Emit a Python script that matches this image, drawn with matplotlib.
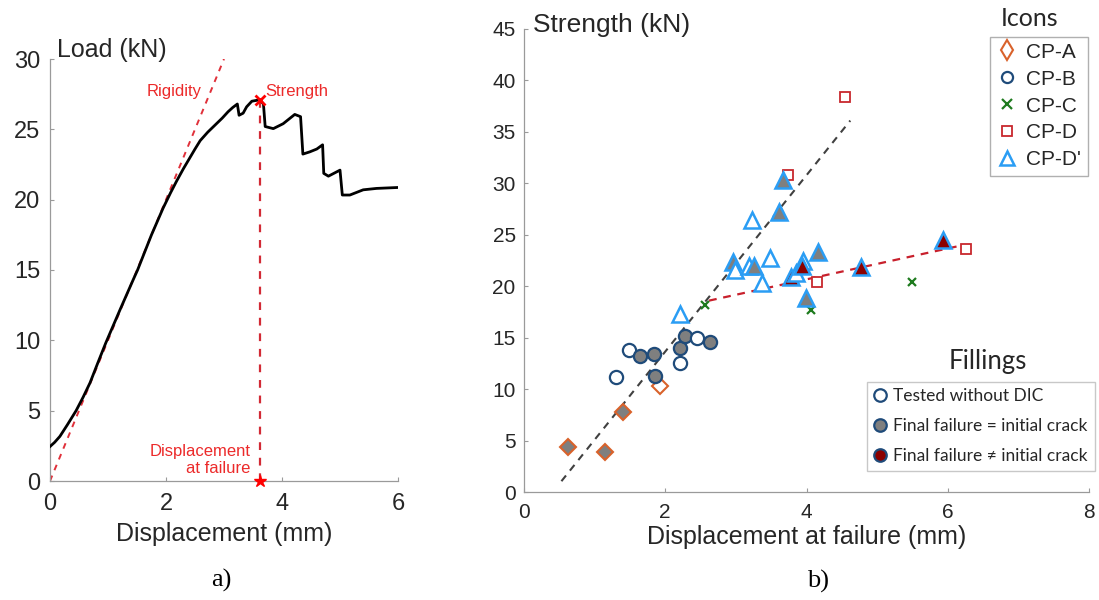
import matplotlib
matplotlib.use("Agg")
import matplotlib.pyplot as plt
from matplotlib.lines import Line2D

# ---------------- data: panel a) load-displacement curve ----------------
curve_x = [0.00, 0.08, 0.17, 0.30, 0.45, 0.57, 0.69, 0.82, 0.96, 1.21, 1.44, 1.51,
           1.75, 1.95, 2.08, 2.18, 2.30, 2.40, 2.50, 2.59, 2.72, 2.87, 2.97, 3.07,
           3.15, 3.23, 3.26, 3.33, 3.39, 3.48, 3.55, 3.62, 3.68, 3.71, 3.85, 4.02,
           4.22, 4.32, 4.36, 4.48, 4.60, 4.70, 4.72, 4.80, 5.00, 5.04, 5.17, 5.40,
           5.63, 6.02]
curve_y = [2.45, 2.75, 3.17, 4.00, 5.00, 5.95, 6.98, 8.35, 9.80, 12.2, 14.36, 15.0,
           17.5, 19.4, 20.5, 21.3, 22.2, 22.9, 23.6, 24.2, 24.8, 25.4, 25.8, 26.25,
           26.55, 26.8, 26.0, 26.15, 26.6, 27.0, 27.05, 27.1, 26.8, 25.2, 25.05, 25.4,
           26.06, 25.9, 23.24, 23.4, 23.6, 23.9, 21.87, 21.67, 22.1, 20.33, 20.33, 20.7,
           20.8, 20.87]
rigidity_x = [0.0, 3.0]
rigidity_y = [0.0, 30.0]
strength_pt = (3.62, 27.1)
failure_disp = 3.62

# ---------------- data: panel b) strength vs displacement at failure ----------------
# CP-A (diamonds)
cpa_x = [0.63, 1.15, 1.40, 1.92]
cpa_y = [4.4, 3.9, 7.8, 10.3]
cpa_fill = ["same", "same", "same", "open"]
# CP-B (circles)
cpb_x = [1.30, 1.49, 1.64, 1.84, 1.86, 2.21, 2.21, 2.28, 2.45, 2.63]
cpb_y = [11.2, 13.8, 13.25, 13.45, 11.3, 14.0, 12.55, 15.15, 15.0, 14.6]
cpb_fill = ["open", "open", "same", "same", "same", "same", "open", "same", "open", "same"]
# CP-C (crosses)
cpc_x = [2.56, 4.06, 5.50]
cpc_y = [18.15, 17.7, 20.4]
# CP-D (squares)
cpd_x = [3.74, 4.15, 4.55, 6.26]
cpd_y = [30.8, 20.4, 38.4, 23.6]
# CP-D' (triangles)
cpdp_x = [2.21, 2.96, 2.99, 3.19, 3.26, 3.23, 3.37, 3.48, 3.61, 3.67, 3.78, 3.85,
          3.95, 3.94, 3.99, 4.16, 4.77, 5.93]
cpdp_y = [17.3, 22.4, 21.6, 22.0, 22.0, 26.4, 20.3, 22.7, 27.2, 30.3, 20.9, 21.3,
          22.5, 22.0, 18.9, 23.3, 21.9, 24.5]
cpdp_fill = ["open", "same", "open", "open", "same", "open", "open", "open", "same", "same",
             "diff", "open", "open", "diff", "same", "same", "diff", "diff"]
# trend lines
fit1_x = [0.53, 4.62]
fit1_y = [1.05, 36.1]
fit2_x = [2.62, 6.22]
fit2_y = [18.6, 24.0]

icon_labels = ["CP-A", "CP-B", "CP-C", "CP-D", "CP-D'"]
filling_labels = ["Tested without DIC", "Final failure = initial crack",
                  "Final failure \u2260 initial crack"]

# ---------------- styles ----------------
SANS = ["Liberation Sans", "DejaVu Sans"]
HUM = ["Lato", "DejaVu Sans"]
SERIF = ["Liberation Serif", "DejaVu Serif"]
TXT = "#262626"
SPINE = "#9a9a9a"
RED_TXT = "#ec2a2a"
RED_LINE = "#e0303a"
C_ORANGE = "#d9622b"
C_BLUE = "#1f4b7a"
C_GREEN = "#1e7b1e"
C_RED = "#c8282d"
C_LBLUE = "#2a9df4"
F_SAME = "#7f7f7f"
F_DIFF = "#8b0000"
fill_map = {"open": "white", "same": F_SAME, "diff": F_DIFF}

plt.rcParams["font.family"] = SANS

W, H = 1099, 600
fig = plt.figure(figsize=(W / 100, H / 100), dpi=100)


def px_axes(x0, x1, y0, y1):
    return fig.add_axes([x0 / W, 1 - y0 / H, (x1 - x0) / W, (y0 - y1) / H])


def style_axes(ax, size):
    for s in ("top", "right"):
        ax.spines[s].set_visible(False)
    for s in ("left", "bottom"):
        ax.spines[s].set_color(SPINE)
        ax.spines[s].set_linewidth(0.9)
    ax.tick_params(direction="in", length=3, width=0.8, color=SPINE,
                   labelcolor=TXT, labelsize=size)


# ---------------- panel a ----------------
axa = px_axes(50, 398, 481, 59)
style_axes(axa, 17)
axa.tick_params(axis="x", pad=9)
axa.tick_params(axis="y", pad=7)
axa.set_xlim(0, 6)
axa.set_ylim(0, 30)
axa.set_xticks([0, 2, 4, 6])
axa.set_yticks([0, 5, 10, 15, 20, 25, 30])

axa.plot(rigidity_x, rigidity_y, ls=(0, (3, 3)), color=RED_LINE, lw=1.4, zorder=2)
axa.plot(curve_x, curve_y, color="black", lw=2.0, zorder=3, solid_joinstyle="round")
axa.plot([failure_disp, failure_disp], [strength_pt[1], 0], ls=(0, (3.5, 3.5)),
         color="#d22a35", lw=1.6, zorder=2)
axa.plot([strength_pt[0]], [strength_pt[1]], marker="x", color="red", ms=7, mew=2,
         clip_on=False, zorder=4)
axa.plot([failure_disp], [0], marker="*", color="red", ms=9, clip_on=False, zorder=4)

axa.text(2.615, 27.7, "Rigidity", color=RED_TXT, fontsize=12, ha="right", va="center")
axa.text(3.72, 27.7, "Strength", color=RED_TXT, fontsize=12, ha="left", va="center")
axa.text(3.46, 1.5, "Displacement\nat failure", color=RED_TXT, fontsize=12,
         ha="right", va="center", multialignment="right", linespacing=1.15)

axa.set_xlabel("Displacement (mm)", fontsize=18, color=TXT)
axa.xaxis.set_label_coords(0.5, -0.098)
axa.set_ylabel("Load (kN)", fontsize=18, color=TXT, rotation=0, ha="left", va="baseline")
axa.yaxis.set_label_coords(0.02, 1.004)

# ---------------- panel b ----------------
axb = px_axes(524, 1089, 492, 29)
style_axes(axb, 15)
axb.tick_params(axis="x", pad=8)
axb.tick_params(axis="y", pad=6)
axb.set_xlim(0, 8)
axb.set_ylim(0, 45)
axb.set_xticks([0, 2, 4, 6, 8])
axb.set_yticks(list(range(0, 50, 5)))

axb.plot(fit1_x, fit1_y, ls=(0, (3.5, 3)), color="#404040", lw=1.5, zorder=2)
axb.plot(fit2_x, fit2_y, ls=(0, (3.5, 3)), color="#c8202c", lw=1.6, zorder=2)

for x, y, f in zip(cpa_x, cpa_y, cpa_fill):
    axb.plot([x], [y], marker="D", ms=8, mfc=fill_map[f], mec=C_ORANGE, mew=1.5, ls="none", zorder=3)
for x, y, f in zip(cpb_x, cpb_y, cpb_fill):
    axb.plot([x], [y], marker="o", ms=9.5, mfc=fill_map[f], mec=C_BLUE, mew=1.6, ls="none", zorder=3)
axb.plot(cpc_x, cpc_y, marker="x", ms=6, mec=C_GREEN, mew=1.6, ls="none", zorder=3)
axb.plot(cpd_x, cpd_y, marker="s", ms=7.5, mfc="white", mec=C_RED, mew=1.3, ls="none", zorder=3)
for x, y, f in zip(cpdp_x, cpdp_y, cpdp_fill):
    axb.plot([x], [y], marker="^", ms=11, mfc=fill_map[f], mec=C_LBLUE, mew=1.8, ls="none", zorder=3)

axb.set_xlabel("Displacement at failure (mm)", fontsize=18, color=TXT)
axb.xaxis.set_label_coords(0.5, -0.072)
axb.set_ylabel("Strength (kN)", fontsize=19, color=TXT, rotation=0, ha="left", va="baseline")
axb.yaxis.set_label_coords(0.016, 0.993)

# legends
icon_handles = [
    Line2D([], [], ls="none", marker="d", ms=10, mfc="white", mec=C_ORANGE, mew=1.5),
    Line2D([], [], ls="none", marker="o", ms=8, mfc="white", mec=C_BLUE, mew=1.6),
    Line2D([], [], ls="none", marker="x", ms=6.5, mec=C_GREEN, mew=1.6),
    Line2D([], [], ls="none", marker="s", ms=7, mfc="white", mec=C_RED, mew=1.3),
    Line2D([], [], ls="none", marker="^", ms=10, mfc="white", mec=C_LBLUE, mew=1.8),
]
leg1 = fig.legend(icon_handles, icon_labels, loc="upper left",
                  bbox_to_anchor=(990 / W, 1 - 36.5 / H), bbox_transform=fig.transFigure,
                  frameon=True, fancybox=False, edgecolor="#b0b0b0", framealpha=1,
                  prop={"family": SANS, "size": 15}, handlelength=1.0,
                  handletextpad=0.45, labelspacing=0.38, borderpad=0.3, borderaxespad=0)
leg1.get_frame().set_linewidth(1.0)
for t in leg1.get_texts():
    t.set_color(TXT)
fig.text(1030 / W, 1 - 19 / H, "Icons", fontsize=18, family=HUM, color=TXT,
         ha="center", va="center")

fill_handles = [
    Line2D([], [], ls="none", marker="o", ms=9, mfc="white", mec=C_BLUE, mew=1.6),
    Line2D([], [], ls="none", marker="o", ms=9, mfc=F_SAME, mec=C_BLUE, mew=1.6),
    Line2D([], [], ls="none", marker="o", ms=9, mfc=F_DIFF, mec=C_BLUE, mew=1.6),
]
leg2 = fig.legend(fill_handles, filling_labels, loc="upper left",
                  bbox_to_anchor=(866.5 / W, 1 - 381.5 / H), bbox_transform=fig.transFigure,
                  frameon=True, fancybox=False, edgecolor="#c8c8c8", framealpha=1,
                  prop={"family": HUM, "size": 12.5}, handlelength=0.8,
                  handletextpad=0.35, labelspacing=0.8, borderpad=0.4, borderaxespad=0)
leg2.get_frame().set_linewidth(1.0)
for t in leg2.get_texts():
    t.set_color(TXT)
fig.text(988 / W, 1 - 362 / H, "Fillings", fontsize=18.5, family=HUM, color=TXT,
         ha="center", va="center")

# panel tags
fig.text(221 / W, 1 - 580 / H, "a)", fontsize=19, family=SERIF, color="black",
         ha="center", va="center")
fig.text(818 / W, 1 - 581 / H, "b)", fontsize=19, family=SERIF, color="black",
         ha="center", va="center")

fig.savefig("out.png", dpi=100)
